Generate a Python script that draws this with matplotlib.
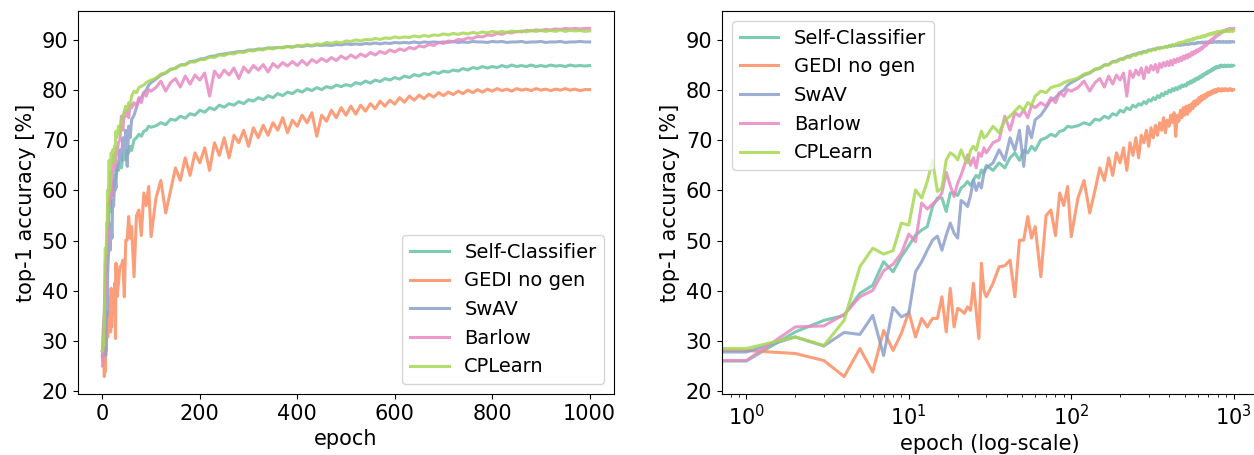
import matplotlib
matplotlib.use("Agg")
import matplotlib.pyplot as plt

# epochs at which top-1 accuracy was logged
EPOCHS = (list(range(0, 31)) + list(range(33, 61, 3))
          + list(range(65, 101, 5)) + list(range(110, 1001, 10)))

# top-1 accuracy [%] per method
self_classifier = [
    27.0, 26.0, 31.8, 34.1, 35.1, 39.5, 41.1, 45.8, 43.8, 46.8, 49.0, 51.1, 52.1, 52.8, 56.8, 58.5,
    58.5, 55.8, 59.5, 59.5, 59.0, 60.5, 61.0, 61.8, 61.0, 62.1, 63.0, 62.5, 64.1, 63.5, 65.0,
    64.0, 65.5, 64.5, 66.5, 67.5, 66.0, 68.0, 67.5, 68.8, 68.0,
    70.1, 70.5, 71.2, 70.8, 71.8, 72.0, 72.8, 72.6,
    72.9, 73.5, 73.1, 74.2, 74.0, 74.8, 74.4, 75.3, 75.0, 76.0,
    75.6, 76.5, 76.1, 77.0, 76.6, 77.3, 77.0, 77.7, 77.3, 78.1,
    77.8, 78.5, 78.1, 78.9, 78.5, 79.3, 78.9, 79.6, 79.3, 80.0,
    79.6, 80.3, 79.9, 80.5, 80.1, 80.7, 80.4, 81.0, 80.7, 81.1,
    80.8, 81.5, 81.2, 81.8, 81.4, 82.0, 81.7, 82.3, 82.0, 82.5,
    82.2, 82.8, 82.5, 83.1, 82.8, 83.3, 83.1, 83.6, 83.3, 83.8,
    83.6, 84.0, 83.8, 84.3, 84.0, 84.5, 84.3, 84.7, 84.4, 84.7,
    84.5, 84.9, 84.6, 85.0, 84.7, 84.9, 84.7, 85.0, 84.7, 84.9,
    84.7, 85.0, 84.8, 84.9, 84.7, 85.0, 84.8, 84.9, 84.8, 84.9,
]
gedi_no_gen = [
    28.0, 28.1, 27.5, 26.1, 22.9, 28.5, 23.8, 32.1, 28.1, 31.5, 35.8, 30.8, 34.5, 32.8, 34.5, 34.5,
    38.8, 31.8, 40.5, 32.8, 36.5, 36.1, 35.5, 36.8, 36.1, 41.5, 36.0, 30.5, 45.5, 40.0, 38.8,
    41.5, 44.8, 45.0, 46.1, 38.8, 50.1, 50.1, 54.8, 50.5, 52.8,
    42.8, 55.0, 56.1, 51.0, 59.5, 57.0, 60.8, 50.8,
    58.5, 62.0, 55.5, 60.0, 64.5, 62.0, 66.5, 63.0, 67.5, 65.5,
    68.5, 64.0, 69.5, 67.0, 70.5, 66.5, 71.0, 69.5, 72.0, 68.8,
    72.5, 70.5, 73.0, 71.0, 73.5, 72.0, 74.5, 71.5, 74.0, 72.8,
    75.0, 73.5, 75.5, 70.8, 75.0, 73.8, 76.0, 74.5, 76.5, 75.0,
    76.8, 75.2, 77.0, 75.8, 77.3, 76.3, 77.8, 76.8, 78.0, 77.2,
    78.5, 77.6, 78.8, 78.0, 79.0, 78.3, 79.2, 78.6, 79.5, 78.9,
    79.6, 79.1, 79.8, 79.3, 80.0, 79.5, 80.1, 79.6, 80.2, 79.8,
    80.3, 79.9, 80.2, 79.8, 80.3, 80.0, 80.2, 79.9, 80.3, 80.0,
    80.2, 79.9, 80.2, 80.0, 80.3, 80.0, 80.2, 79.9, 80.1, 80.1,
]
swav = [
    27.0, 27.8, 30.8, 29.0, 31.7, 31.3, 35.1, 27.1, 36.7, 34.8, 35.5, 43.8, 45.8, 48.1, 50.1, 50.9,
    48.1, 51.1, 53.5, 51.5, 50.5, 58.0, 57.5, 56.8, 59.0, 62.1, 60.0, 61.5, 60.5, 63.5, 64.5,
    65.5, 68.1, 66.0, 70.5, 68.0, 72.0, 64.8, 72.8, 70.5, 74.1,
    75.0, 76.5, 78.0, 78.5, 79.5, 80.0, 81.0, 81.5,
    82.2, 83.0, 83.4, 84.1, 84.4, 85.0, 85.1, 85.7, 85.8, 86.2,
    86.3, 86.7, 86.8, 87.1, 87.2, 87.4, 87.5, 87.7, 87.7, 88.0,
    88.0, 88.2, 88.2, 88.4, 88.4, 88.5, 88.5, 88.7, 88.6, 88.8,
    88.7, 88.9, 88.8, 89.0, 88.9, 89.0, 88.9, 89.1, 89.0, 89.2,
    89.1, 89.2, 89.1, 89.3, 89.2, 89.4, 89.2, 89.4, 89.3, 89.5,
    89.4, 89.5, 89.4, 89.6, 89.4, 89.6, 89.5, 89.6, 89.5, 89.6,
    89.5, 89.7, 89.5, 89.6, 89.5, 89.7, 89.6, 89.6, 89.5, 89.7,
    89.6, 89.7, 89.5, 89.6, 89.6, 89.7, 89.5, 89.6, 89.6, 89.7,
    89.5, 89.6, 89.6, 89.7, 89.5, 89.6, 89.6, 89.7, 89.6, 89.6,
]
barlow = [
    25.0, 26.1, 32.8, 33.0, 35.3, 38.8, 40.1, 44.0, 45.3, 47.5, 51.3, 49.8, 57.5, 56.3, 57.3, 58.1,
    59.5, 63.6, 61.0, 58.8, 61.5, 63.1, 65.0, 67.1, 65.0, 66.5, 64.5, 67.5, 66.8, 68.5, 67.5,
    69.5, 70.1, 74.8, 72.0, 75.5, 74.8, 76.0, 74.5, 77.0, 76.5,
    77.5, 76.8, 78.5, 77.5, 79.5, 78.8, 80.1, 79.8,
    80.5, 81.8, 79.8, 81.5, 82.3, 80.6, 82.8, 81.2, 83.0, 82.0,
    83.4, 78.8, 83.8, 82.5, 84.0, 83.0, 84.4, 82.3, 84.6, 83.5,
    84.9, 84.0, 85.1, 83.6, 85.3, 84.5, 85.5, 84.8, 85.7, 84.9,
    85.9, 85.0, 86.1, 85.5, 86.3, 85.7, 86.5, 85.9, 86.8, 86.2,
    87.0, 86.4, 87.2, 86.7, 87.5, 87.0, 87.7, 87.3, 88.0, 87.6,
    88.2, 87.9, 88.5, 88.2, 88.8, 88.6, 89.1, 88.9, 89.5, 89.3,
    89.8, 89.6, 90.1, 90.0, 90.4, 90.3, 90.7, 90.6, 91.0, 90.9,
    91.3, 91.1, 91.5, 91.4, 91.7, 91.6, 91.9, 91.8, 92.0, 91.9,
    92.1, 92.0, 92.2, 92.1, 92.3, 92.2, 92.3, 92.2, 92.3, 92.3,
]
cplearn = [
    28.0, 28.5, 30.8, 29.1, 34.1, 44.8, 48.5, 47.3, 48.0, 53.5, 53.1, 60.1, 58.5, 61.8, 66.0, 59.8,
    60.5, 66.1, 67.5, 67.0, 66.1, 68.1, 66.5, 65.5, 68.0, 68.8, 68.0, 70.1, 71.8, 70.5, 70.8,
    72.8, 71.5, 74.0, 74.8, 75.8, 76.8, 76.0, 77.5, 77.0, 78.8,
    79.8, 79.5, 80.5, 80.8, 81.0, 81.5, 81.8, 82.0,
    82.4, 83.2, 83.5, 84.2, 84.3, 85.0, 85.0, 85.6, 85.6, 86.1,
    86.1, 86.6, 86.5, 87.0, 86.9, 87.3, 87.2, 87.6, 87.5, 87.9,
    87.8, 88.1, 88.0, 88.4, 88.2, 88.5, 88.4, 88.7, 88.5, 88.9,
    88.8, 89.1, 88.9, 89.2, 89.1, 89.5, 89.3, 89.6, 89.4, 89.8,
    89.7, 90.0, 89.8, 90.1, 90.0, 90.3, 90.1, 90.4, 90.3, 90.6,
    90.4, 90.6, 90.5, 90.8, 90.6, 90.9, 90.7, 91.0, 90.9, 91.2,
    91.0, 91.3, 91.1, 91.4, 91.2, 91.5, 91.3, 91.6, 91.4, 91.7,
    91.5, 91.7, 91.5, 91.8, 91.6, 91.8, 91.6, 91.9, 91.7, 91.9,
    91.7, 91.9, 91.7, 92.0, 91.7, 91.9, 91.8, 91.9, 91.7, 91.8,
]

LABELS = ["Self-Classifier", "GEDI no gen", "SwAV", "Barlow", "CPLearn"]
SERIES = [self_classifier, gedi_no_gen, swav, barlow, cplearn]
COLORS = ["#66c2a5", "#fc8d62", "#8da0cb", "#e78ac3", "#a6d854"]  # Set2

plt.rcParams["font.family"] = ["DejaVu Sans"]
plt.rcParams["xtick.labelsize"] = 15
plt.rcParams["ytick.labelsize"] = 15

fig = plt.figure(figsize=(12.54, 4.55), dpi=100)
ax_lin = fig.add_axes([78 / 1254, 1 - 394 / 455, 536 / 1254, 383 / 455])
ax_log = fig.add_axes([722 / 1254, 1 - 394 / 455, 536 / 1254, 383 / 455])

for ax in (ax_lin, ax_log):
    for lab, ys, col in zip(LABELS, SERIES, COLORS):
        ax.plot(EPOCHS, ys, color=col, lw=2.2, alpha=0.85, label=lab)
    ax.set_ylabel("top-1 accuracy [%]", fontsize=15)
    ax.set_yticks([20, 30, 40, 50, 60, 70, 80, 90])

ax_log.set_xscale("log")

ax_lin.set_xlabel("epoch", fontsize=15)
ax_log.set_xlabel("epoch (log-scale)", fontsize=15)

ax_lin.legend(loc="lower right", fontsize=14)
ax_log.legend(loc="upper left", fontsize=14)

fig.savefig("out.png", dpi=100)
